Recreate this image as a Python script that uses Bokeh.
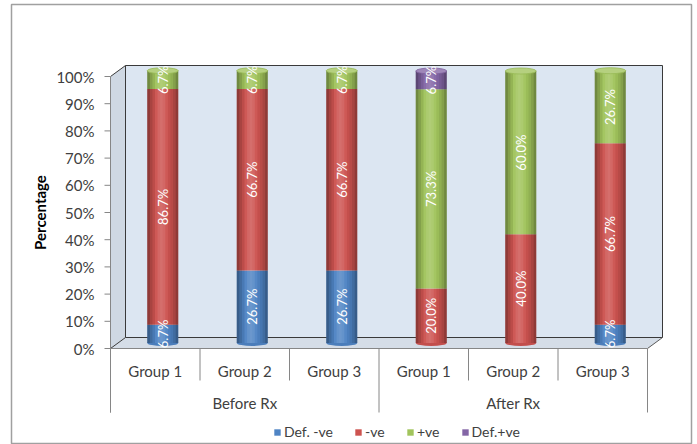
import numpy as np
from bokeh.plotting import figure
from bokeh.models import Range1d, ColumnDataSource, Legend, LegendItem
from bokeh.core.properties import value
from bokeh.embed import file_html
from bokeh.resources import INLINE

# ---------------- data ----------------
group_labels = ["Before Rx", "After Rx"]
bar_labels = ["Group 1", "Group 2", "Group 3", "Group 1", "Group 2", "Group 3"]
series_names = ["Def. -ve", "-ve", "+ve", "Def.+ve"]
def_neg = [6.7, 26.7, 26.7, 0.0, 0.0, 6.7]
neg = [86.7, 66.7, 66.7, 20.0, 40.0, 66.7]
pos = [6.7, 6.7, 6.7, 73.3, 60.0, 26.7]
def_pos = [0.0, 0.0, 0.0, 6.7, 0.0, 0.0]
y_ticks = [0, 10, 20, 30, 40, 50, 60, 70, 80, 90, 100]
y_tick_labels = ["0%", "10%", "20%", "30%", "40%", "50%", "60%", "70%", "80%", "90%", "100%"]
y_title = "Percentage"

series_values = [def_neg, neg, pos, def_pos]
series_colors = ["#4f84c4", "#cd5350", "#a1c45c", "#8466a6"]

# ---------------- geometry (pixels) ----------------
W, H = 697, 444
FL, FT, FR, FB = 11, 4, 691, 444
X0, CAT = 110.0, 89.5
Y0, PCT = 348.0, 2.72
DX_PX, DY_PX = 15.0, 11.0
FONT = "Lato"


def xd(px):
    return (px - X0) / CAT


def yd(py):
    return (Y0 - py) / PCT


def lighten(hx, f):
    r, g, b = int(hx[1:3], 16), int(hx[3:5], 16), int(hx[5:7], 16)
    r, g, b = [int(c + (255 - c) * f) for c in (r, g, b)]
    return "#%02x%02x%02x" % (r, g, b)


def darken(hx, f):
    r, g, b = int(hx[1:3], 16), int(hx[3:5], 16), int(hx[5:7], 16)
    r, g, b = [int(c * (1 - f)) for c in (r, g, b)]
    return "#%02x%02x%02x" % (r, g, b)


n = len(bar_labels)
per_group = n // len(group_labels)
dx = DX_PX / CAT
dy = DY_PX / PCT
top = max(y_ticks)

p = figure(width=W, height=H,
           x_range=Range1d(xd(FL), xd(FR)), y_range=Range1d(yd(FB), yd(FT)),
           x_axis_location=None, y_axis_location=None,
           output_backend="svg", toolbar_location=None,
           min_border_left=FL, min_border_right=W - FR,
           min_border_top=FT, min_border_bottom=H - FB)
p.grid.visible = False
p.outline_line_color = "#a0a0a0"
p.outline_line_width = 1.5
p.background_fill_color = "white"
p.border_fill_color = "white"

# ---------------- 3D walls ----------------
p.patch([dx, n + dx, n + dx, dx], [dy, dy, top + dy, top + dy],
        fill_color="#dce6f2", line_color=None)
p.patch([0, dx, dx, 0], [0, dy, top + dy, top],
        fill_color="#cfd8e3", line_color=None)
p.patch([0, n, n + dx, dx], [0, 0, dy, dy],
        fill_color="#d5dde7", line_color=None)
# wall edges
p.line([dx, dx, n + dx, n + dx, dx], [dy, top + dy, top + dy, dy, dy],
       line_color="#3a3a3a", line_width=1)
p.line([0, dx], [top, top + dy], line_color="#3a3a3a", line_width=1)
p.line([0, dx], [0, dy], line_color="#3a3a3a", line_width=1)
p.line([n, n + dx], [0, dy], line_color="#5a5a5a", line_width=1)

# ---------------- axes drawn as glyphs ----------------
tick_len = 6.0 / CAT
p.segment(x0=[-tick_len] * len(y_ticks), y0=y_ticks, x1=[0] * len(y_ticks), y1=y_ticks,
          line_color="#868686", line_width=1)
p.line([0, 0], [top, yd(412)], line_color="#868686", line_width=1)
p.line([0, n], [0, 0], line_color="#868686", line_width=1)
p.text(x=[xd(94)] * len(y_ticks), y=y_ticks, text=y_tick_labels,
       text_align="right", text_baseline="middle",
       text_font=value(FONT), text_font_size="15px", text_color="#404040")
p.text(x=[xd(39)], y=[top / 2], text=[y_title], angle=np.pi / 2,
       text_align="center", text_baseline="middle",
       text_font=value(FONT), text_font_size="15px", text_font_style="bold",
       text_color="#000000")

bounds = np.arange(n + 1)
long_b = [b for b in bounds if b % per_group == 0]
short_b = [b for b in bounds if b % per_group != 0]
p.segment(x0=long_b, y0=[0] * len(long_b), x1=long_b, y1=[yd(412)] * len(long_b),
          line_color="#868686", line_width=1)
p.segment(x0=short_b, y0=[0] * len(short_b), x1=short_b, y1=[yd(380)] * len(short_b),
          line_color="#868686", line_width=1)
p.text(x=np.arange(n) + 0.5, y=[yd(370)] * n, text=bar_labels,
       text_align="center", text_baseline="middle",
       text_font=value(FONT), text_font_size="15px", text_color="#404040")
p.text(x=np.arange(len(group_labels)) * per_group + per_group / 2.0,
       y=[yd(402)] * len(group_labels), text=group_labels,
       text_align="center", text_baseline="middle",
       text_font=value(FONT), text_font_size="15px", text_color="#404040")

# ---------------- cylinders ----------------
vals = np.array(series_values, dtype=float)
cum = np.vstack([np.zeros(n), np.cumsum(vals, axis=0)[:-1]])
totals = vals.sum(axis=0)
bar_x = np.arange(n) + 0.5 + dx / 2
BW = 31.0 / CAT
EH = 6.0 / PCT

first_idx = [int(np.argmax(vals[:, i] > 0)) for i in range(n)]
last_idx = [int(len(vals) - 1 - np.argmax(vals[::-1, i] > 0)) for i in range(n)]

# bottom rounded end
p.ellipse(x=bar_x, y=[dy / 2] * n, width=BW, height=EH,
          fill_color=[darken(series_colors[k], 0.05) for k in first_idx], line_color=None)

renderers = []
for k, name in enumerate(series_names):
    src = ColumnDataSource(dict(x=bar_x, bottom=cum[k] + dy / 2, top=cum[k] + vals[k] + dy / 2))
    r = p.vbar(x="x", width=BW, bottom="bottom", top="top", source=src,
               fill_color=series_colors[k], line_color=None)
    renderers.append(r)

# cylinder shading strips
shade = [("black", 0.30), ("black", 0.18), ("black", 0.08), ("white", 0.04),
         ("white", 0.12), ("white", 0.16), ("white", 0.12), ("white", 0.04),
         ("black", 0.04), ("black", 0.10), ("black", 0.18), ("black", 0.30)]
ns = len(shade)
sw = BW / ns
for j, (c, a) in enumerate(shade):
    p.vbar(x=bar_x - BW / 2 + (j + 0.5) * sw, width=sw * 1.02,
           bottom=[dy / 2] * n, top=totals + dy / 2,
           fill_color=c, fill_alpha=a, line_color=None)

# top cap
p.ellipse(x=bar_x, y=totals + dy / 2, width=BW, height=EH,
          fill_color=[lighten(series_colors[k], 0.22) for k in last_idx],
          line_color=[darken(series_colors[k], 0.05) for k in last_idx], line_width=0.8)

# data labels
lx, ly, lt = [], [], []
for k in range(len(series_names)):
    for i in range(n):
        v = vals[k, i]
        if v > 0:
            lx.append(bar_x[i])
            ly.append(cum[k, i] + v / 2 + dy / 2)
            lt.append("%.1f%%" % v)
p.text(x=lx, y=ly, text=lt, angle=np.pi / 2, text_align="center", text_baseline="middle",
       text_font=value(FONT), text_font_size="13px", text_color="white")

# ---------------- legend ----------------
legend = Legend(items=[LegendItem(label=nm, renderers=[r]) for nm, r in zip(series_names, renderers)],
                orientation="horizontal", location=(262, 4),
                border_line_color=None, background_fill_alpha=0,
                glyph_width=8, glyph_height=8, label_height=14, label_standoff=3,
                spacing=21, padding=0, margin=0,
                label_text_font=FONT, label_text_font_size="14px", label_text_color="#404040")
p.add_layout(legend)

open("out.html", "w").write(file_html(p, INLINE))
